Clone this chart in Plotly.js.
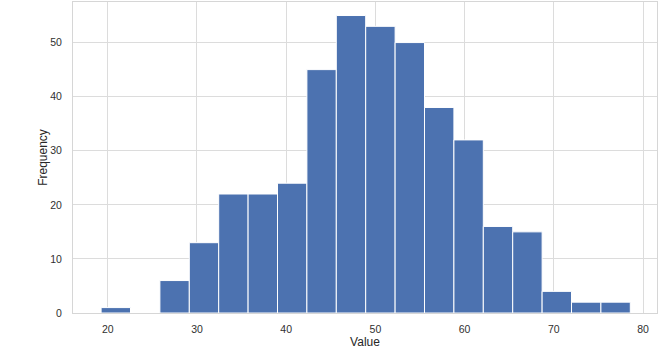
<!DOCTYPE html>
<html>
<head>
<meta charset="utf-8">
<script src="https://cdn.plot.ly/plotly-3.0.1.min.js"></script>
<style>html,body{margin:0;padding:0;background:#fff;}#chart{width:671px;height:354px;}</style>
</head>
<body>
<div id="chart"></div>
<script>
// Histogram bins
var binStart = 19.25;
var binWidth = 3.296;
var counts = [1, 0, 6, 13, 22, 22, 24, 45, 55, 53, 50, 38, 32, 16, 15, 4, 2, 2];
var xTicks = [20, 30, 40, 50, 60, 70, 80];
var yTicks = [0, 10, 20, 30, 40, 50];

var centers = counts.map(function (c, i) { return binStart + binWidth * (i + 0.5); });
var widths = counts.map(function () { return binWidth; });

var trace = {
  type: 'bar',
  x: centers,
  y: counts,
  width: widths,
  marker: { color: '#4C72B0', line: { color: '#ffffff', width: 1 } },
  hoverinfo: 'x+y'
};

var font = 'Liberation Sans, Arial, sans-serif';
var layout = {
  width: 671,
  height: 354,
  margin: { l: 73, r: 14, t: 2, b: 41 },
  paper_bgcolor: '#ffffff',
  plot_bgcolor: '#ffffff',
  showlegend: false,
  bargap: 0,
  font: { family: font, color: '#303030', size: 10.5 },
  xaxis: {
    range: [16.1, 81.57],
    tickvals: xTicks,
    ticktext: xTicks.map(String),
    showgrid: true,
    gridcolor: '#dcdcdc',
    gridwidth: 1,
    zeroline: false,
    showline: true,
    linecolor: '#d6d6d6',
    linewidth: 1,
    mirror: true,
    ticks: '',
    ticklabelstandoff: 6,
    title: { text: 'Value', font: { family: font, size: 12, color: '#262626' }, standoff: 1 }
  },
  yaxis: {
    range: [0, 57.5],
    tickvals: yTicks,
    ticktext: yTicks.map(String),
    showgrid: true,
    gridcolor: '#dcdcdc',
    gridwidth: 1,
    zeroline: false,
    showline: true,
    linecolor: '#d6d6d6',
    linewidth: 1,
    mirror: true,
    ticks: '',
    ticklabelstandoff: 8,
    title: { text: 'Frequency', font: { family: font, size: 12, color: '#262626' }, standoff: 0 }
  }
};

Plotly.newPlot('chart', [trace], layout, { displayModeBar: false, staticPlot: true });
</script>
</body>
</html>
